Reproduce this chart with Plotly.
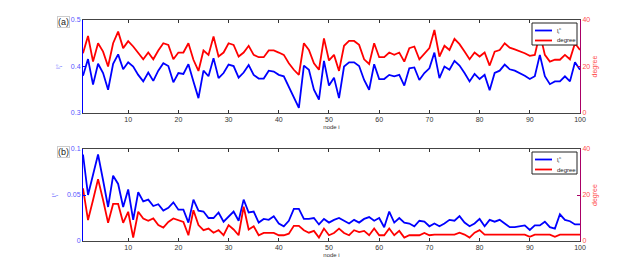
import plotly.graph_objects as go

nodes = list(range(1, 101))

lf_a = [0.380,0.416,0.361,0.406,0.386,0.350,0.406,0.426,0.394,0.409,0.400,0.382,0.368,0.387,0.369,0.391,0.407,0.401,0.366,0.386,0.384,0.405,0.368,0.332,0.391,0.379,0.418,0.375,0.386,0.404,0.401,0.376,
        0.387,0.403,0.382,0.374,0.374,0.391,0.389,0.382,0.379,0.356,0.332,0.311,0.402,0.393,0.350,0.329,0.412,0.359,0.376,0.332,0.400,0.409,0.409,0.401,0.371,0.350,0.405,0.373,0.373,0.382,0.379,0.382,0.359,0.396,0.398,0.371,0.386,0.396,
        0.430,0.375,0.400,0.393,0.412,0.402,0.386,0.368,0.384,0.373,0.382,0.349,0.386,0.391,0.404,0.394,0.391,0.386,0.380,0.373,0.379,0.425,0.379,0.362,0.368,0.368,0.379,0.368,0.409,0.393]

deg_a = [25.7,33.1,22.1,30.0,26.4,20.0,30.0,35.0,27.9,30.9,28.6,25.7,23.1,26.0,23.1,26.9,30.0,29.3,23.1,26.0,26.0,30.0,22.9,18.1,26.9,25.0,32.9,24.3,26.0,30.0,29.3,24.3,
         26.0,28.9,25.0,24.0,24.0,26.9,26.9,26.0,25.0,21.4,18.6,16.4,30.0,27.1,21.4,18.6,32.1,22.6,25.0,18.1,28.9,31.0,31.0,29.3,23.1,21.1,30.0,24.0,24.0,26.0,25.0,26.0,22.1,27.9,28.6,23.1,25.7,27.9,
         35.7,24.3,28.9,27.1,31.9,29.6,26.4,23.1,26.0,24.3,26.0,20.4,26.4,27.1,30.0,28.1,27.4,26.7,25.7,24.6,25.0,34.3,25.0,22.1,22.9,22.9,25.0,23.1,30.0,27.1]

lf_b = [0.094,0.050,0.072,0.094,0.066,0.037,0.071,0.062,0.037,0.056,0.023,0.053,0.043,0.045,0.038,0.040,0.033,0.036,0.042,0.034,0.034,0.020,0.045,0.033,0.032,0.025,0.025,0.031,0.021,0.026,0.032,0.022,
        0.045,0.031,0.032,0.020,0.024,0.023,0.027,0.019,0.016,0.022,0.035,0.035,0.024,0.024,0.025,0.018,0.024,0.020,0.023,0.025,0.022,0.019,0.023,0.020,0.024,0.026,0.022,0.025,0.015,0.032,0.020,0.025,0.020,0.019,0.016,0.022,0.021,0.016,
        0.019,0.016,0.019,0.023,0.022,0.027,0.020,0.016,0.019,0.024,0.016,0.023,0.021,0.023,0.019,0.015,0.015,0.016,0.017,0.012,0.017,0.017,0.021,0.015,0.0135,0.029,0.023,0.0215,0.018,0.018]

deg_b = [22.9,9.1,17.8,26.9,17.8,7.9,16.1,16.1,7.9,12.7,1.5,12.7,9.8,8.8,9.8,6.9,5.8,8.3,9.8,9.1,8.3,2.5,13.4,6.9,4.7,5.4,3.6,4.7,2.5,6.9,5.0,2.5,
         14.9,5.0,6.4,2.5,3.5,3.5,3.5,2.5,2.5,3.2,6.6,6.6,4.7,3.6,4.4,1.5,5.4,2.5,3.5,5.4,3.5,2.5,4.7,3.9,4.4,2.5,5.4,2.5,2.5,5.4,2.5,4.4,1.5,2.5,2.5,2.5,3.5,2.5,
         2.8,2.8,2.8,2.8,2.8,3.6,2.8,1.5,3.6,4.7,2.8,2.8,2.8,2.8,2.8,2.8,2.8,2.8,2.8,1.8,2.8,2.8,2.8,2.8,1.8,2.8,2.8,2.8,2.8,2.8]

x_ticks = [10, 20, 30, 40, 50, 60, 70, 80, 90, 100]
lf_ticks_a = [0.3, 0.4, 0.5]
lf_ticks_b = [0, 0.05, 0.1]
deg_ticks = [0, 20, 40]
legend_names = ["l<sub>i</sub><sup>c</sup>", "degree"]

# The page body adds an 8px margin; size the figure so it fits the 641x272 window.
OFF = 8
W, H = 641 - OFF, 272 - OFF
FONT = "Liberation Sans"
BLUE = "#0000ff"
RED = "#ff0000"


def px(x):
    return (x - OFF) / W


def py(y):
    return 1 - (y - OFF) / H


XD = [px(83), px(580)]
TOP_D = [py(113), py(20)]
BOT_D = [py(241), py(149)]

fig = go.Figure()
fig.add_trace(go.Scatter(x=nodes, y=lf_a, mode="lines", line=dict(color=BLUE, width=1.8),
                         name=legend_names[0], xaxis="x", yaxis="y"))
fig.add_trace(go.Scatter(x=nodes, y=deg_a, mode="lines", line=dict(color=RED, width=1.8),
                         name=legend_names[1], xaxis="x", yaxis="y2"))
fig.add_trace(go.Scatter(x=nodes, y=lf_b, mode="lines", line=dict(color=BLUE, width=1.8),
                         name=legend_names[0], xaxis="x2", yaxis="y3"))
fig.add_trace(go.Scatter(x=nodes, y=deg_b, mode="lines", line=dict(color=RED, width=1.8),
                         name=legend_names[1], xaxis="x2", yaxis="y4"))

tickf = dict(family=FONT, size=7, color="#333333")


def xaxis(domain, anchor):
    return dict(domain=domain, anchor=anchor, range=[1, 100], tickvals=x_ticks, automargin=False,
                ticks="inside", ticklen=3, tickcolor="#333333", mirror="ticks",
                showline=True, linecolor="#444444", linewidth=1, showgrid=False, zeroline=False,
                tickfont=tickf, title=dict(text="node i", font=dict(family=FONT, size=6, color="#333333"),
                                           standoff=2))


def yleft(domain, anchor, rng, tv):
    return dict(domain=domain, anchor=anchor, range=rng, tickvals=tv, automargin=False,
                ticks="inside", ticklen=3, tickcolor=BLUE, showline=True, linecolor=BLUE,
                linewidth=1, showgrid=False, zeroline=False,
                tickfont=dict(family=FONT, size=7, color="#5555ff"),
                title=dict(text=legend_names[0], font=dict(family=FONT, size=6, color="#5555ff"),
                           standoff=9))


def yright(overlay, anchor, rng):
    return dict(overlaying=overlay, anchor=anchor, side="right", range=rng, tickvals=deg_ticks,
                automargin=False,
                ticks="inside", ticklen=3, tickcolor="#aa0066", showline=True, linecolor="#aa0066",
                linewidth=1, showgrid=False, zeroline=False,
                tickfont=dict(family=FONT, size=7, color="#ff4d4d"),
                title=dict(text="degree", font=dict(family=FONT, size=7, color="#ff4d4d"), standoff=2))


shapes = []
annotations = []


def legend_box(top_px):
    shapes.append(dict(type="rect", xref="paper", yref="paper", x0=px(532), x1=px(577),
                       y0=py(top_px + 22), y1=py(top_px),
                       line=dict(color="#222222", width=1), fillcolor="white", layer="above"))
    for k, (col, name) in enumerate(zip([BLUE, RED], legend_names)):
        yy = py(top_px + 7.5 + k * 10)
        shapes.append(dict(type="line", xref="paper", yref="paper", x0=px(535), x1=px(552),
                           y0=yy, y1=yy, line=dict(color=col, width=1.8), layer="above"))
        annotations.append(dict(text=name, x=px(555), y=yy, xref="paper", yref="paper",
                                xanchor="left", yanchor="middle", showarrow=False,
                                font=dict(family=FONT, size=6, color="#222222")))


legend_box(23)
legend_box(152)

for lab, ypx in [("(a)", 22), ("(b)", 152)]:
    annotations.append(dict(text=lab, x=px(57), y=py(ypx), xref="paper", yref="paper",
                            xanchor="left", yanchor="middle", showarrow=False,
                            font=dict(family=FONT, size=9, color="#222222"),
                            bordercolor="#cccccc", borderwidth=1, borderpad=0))

fig.update_layout(
    width=W, height=H, margin=dict(l=0, r=0, t=0, b=0, autoexpand=False),
    paper_bgcolor="white", plot_bgcolor="white",
    font=dict(family=FONT, size=7),
    xaxis=xaxis(XD, "y"),
    yaxis=yleft(TOP_D, "x", [0.3, 0.5], lf_ticks_a),
    yaxis2=yright("y", "x", [0, 40]),
    xaxis2=xaxis(XD, "y3"),
    yaxis3=yleft(BOT_D, "x2", [0, 0.1], lf_ticks_b),
    yaxis4=yright("y3", "x2", [0, 40]),
    showlegend=False,
    shapes=shapes,
    annotations=annotations,
)

fig.write_html("out.html")
